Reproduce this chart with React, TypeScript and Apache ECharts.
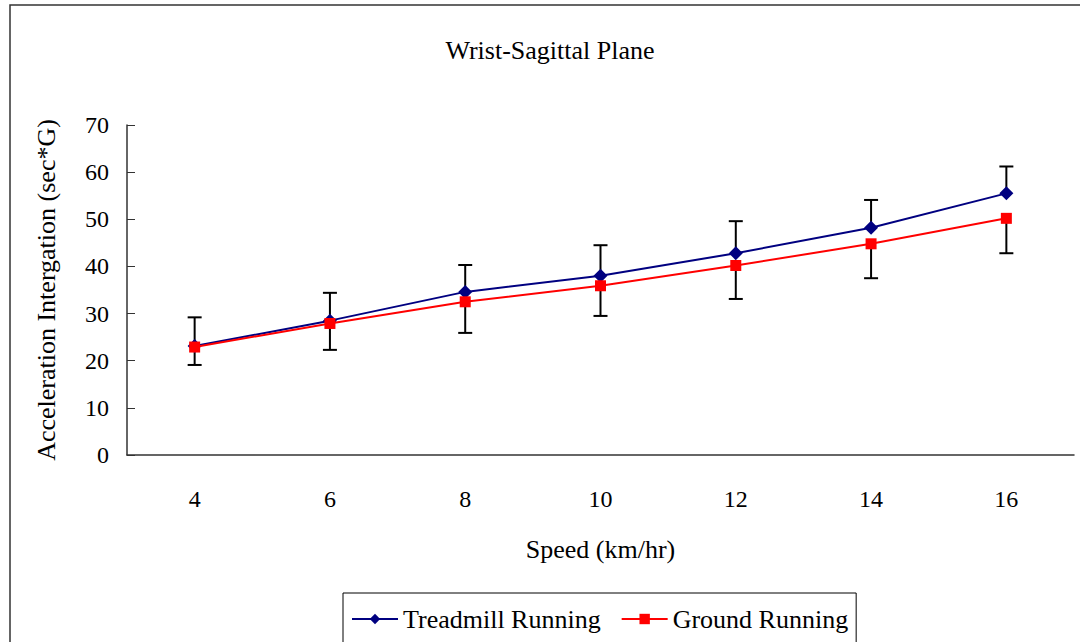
import React, { useEffect, useRef } from "react";
import * as echarts from "echarts";

const categories = ["4", "6", "8", "10", "12", "14", "16"];
const treadmill = [23.1, 28.5, 34.6, 38.0, 42.8, 48.2, 55.5];
const treadmillSd = [6.1, 5.9, 5.7, 6.5, 6.8, 5.9, 5.7];
const ground = [22.9, 27.9, 32.5, 35.9, 40.2, 44.8, 50.2];
const groundSd = [3.8, 5.6, 6.6, 6.4, 7.1, 7.3, 7.4];
const yTicks = { min: 0, max: 70, interval: 10 };

const FONT = "Liberation Serif, Times New Roman, serif";

function errRender(params: any, api: any) {
  const x = api.value(0);
  const p0 = api.coord([x, api.value(1)]);
  const p1 = api.coord([x, api.value(2)]);
  const hw = 7;
  return {
    type: "group",
    children: [
      { type: "line", shape: { x1: p0[0], y1: p0[1], x2: p1[0], y2: p1[1] }, style: { stroke: "#000", lineWidth: 2 } },
      { type: "line", shape: { x1: p1[0] - hw, y1: p1[1], x2: p1[0] + hw, y2: p1[1] }, style: { stroke: "#000", lineWidth: 2 } },
    ],
  };
}

export default function App() {
  const ref = useRef<HTMLDivElement>(null);
  useEffect(() => {
    document.body.style.margin = "0";
    const chart = echarts.init(ref.current!, null, { renderer: "svg" });
    const errT = categories.map((_, i) => [i, treadmill[i], treadmill[i] + treadmillSd[i]]);
    const errG = categories.map((_, i) => [i, ground[i], ground[i] - groundSd[i]]);
    chart.setOption({
      animation: false,
      backgroundColor: "#fff",
      textStyle: { fontFamily: FONT, color: "#000" },
      title: {
        text: "Wrist-Sagittal Plane",
        left: 545,
        top: 32,
        textAlign: "center",
        textStyle: { fontFamily: FONT, fontSize: 26, fontWeight: "normal", color: "#000" },
      },
      graphic: [
        {
          type: "rect",
          shape: { x: 10, y: 5, width: 1200, height: 800 },
          style: { fill: "none", stroke: "#333", lineWidth: 1.5 },
          silent: true,
        },
      ],
      legend: {
        left: 343,
        top: 593,
        data: ["Treadmill Running", "Ground Running"],
        itemWidth: 46,
        itemHeight: 13,
        itemGap: 20,
        padding: [13, 8, 11, 8],
        borderColor: "#000",
        borderWidth: 1,
        textStyle: { fontFamily: FONT, fontSize: 26, color: "#000" },
      },
      grid: { left: 127, right: 6, top: 125, bottom: 187 },
      xAxis: {
        type: "category",
        data: categories,
        boundaryGap: true,
        name: "Speed (km/hr)",
        nameLocation: "middle",
        nameGap: 81,
        nameTextStyle: { fontFamily: FONT, fontSize: 26, color: "#000" },
        axisLine: { lineStyle: { color: "#333", width: 1.5 } },
        axisTick: { inside: true, length: 8, lineStyle: { color: "#333" } },
        axisLabel: { fontFamily: FONT, fontSize: 24, color: "#000", margin: 32 },
        splitLine: { show: false },
      },
      yAxis: {
        type: "value",
        min: yTicks.min,
        max: yTicks.max,
        interval: yTicks.interval,
        name: "Acceleration Intergation (sec*G)",
        nameLocation: "middle",
        nameGap: 68,
        nameTextStyle: { fontFamily: FONT, fontSize: 26, color: "#000" },
        axisLine: { show: true, lineStyle: { color: "#333", width: 1.5 } },
        axisTick: { show: true, inside: true, length: 8, lineStyle: { color: "#333" } },
        axisLabel: { fontFamily: FONT, fontSize: 24, color: "#000", margin: 18 },
        splitLine: { show: false },
      },
      series: [
        {
          type: "custom",
          name: "errT",
          data: errT,
          renderItem: errRender,
          encode: { x: 0, y: [1, 2] },
          z: 1,
          silent: true,
        },
        {
          type: "custom",
          name: "errG",
          data: errG,
          renderItem: errRender,
          encode: { x: 0, y: [1, 2] },
          z: 1,
          silent: true,
        },
        {
          type: "line",
          name: "Treadmill Running",
          data: treadmill,
          color: "#000080",
          symbol: "diamond",
          symbolSize: 14,
          lineStyle: { color: "#000080", width: 2 },
          itemStyle: { color: "#000080" },
          z: 3,
        },
        {
          type: "line",
          name: "Ground Running",
          data: ground,
          color: "#ff0000",
          symbol: "rect",
          symbolSize: 11,
          lineStyle: { color: "#ff0000", width: 2 },
          itemStyle: { color: "#ff0000" },
          z: 4,
        },
      ],
    });
    return () => chart.dispose();
  }, []);
  return <div ref={ref} style={{ width: 1080, height: 642 }} />;
}
